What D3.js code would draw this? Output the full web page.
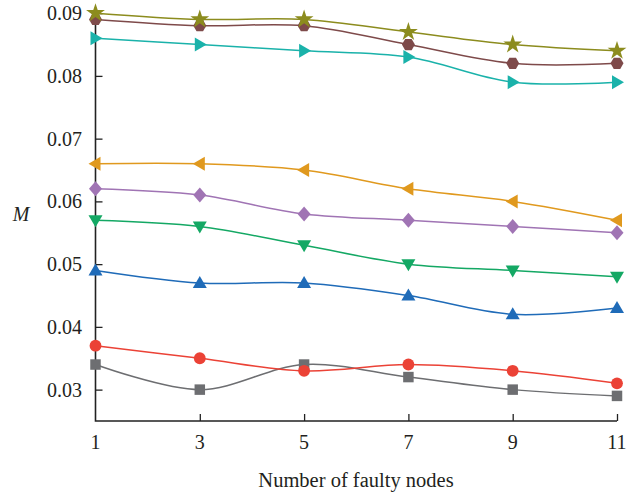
<!DOCTYPE html>
<html><head><meta charset="utf-8">
<script src="https://cdn.jsdelivr.net/npm/d3@7"></script>
<style>body{margin:0;background:#fff}svg{display:block}</style>
</head><body>
<svg id="c" width="641" height="496"></svg>
<script>
const xValues = [1, 3, 5, 7, 9, 11];
const yTicks = [0.03, 0.04, 0.05, 0.06, 0.07, 0.08, 0.09];
const xTicks = [1, 3, 5, 7, 9, 11];
const starVals   = [0.090, 0.089, 0.089, 0.087, 0.085, 0.084];
const hexVals    = [0.089, 0.088, 0.088, 0.085, 0.082, 0.082];
const rightVals  = [0.086, 0.085, 0.084, 0.083, 0.079, 0.079];
const leftVals   = [0.066, 0.066, 0.065, 0.062, 0.060, 0.057];
const diamondVals= [0.062, 0.061, 0.058, 0.057, 0.056, 0.055];
const downVals   = [0.057, 0.056, 0.053, 0.050, 0.049, 0.048];
const upVals     = [0.049, 0.047, 0.047, 0.045, 0.042, 0.043];
const circleVals = [0.037, 0.035, 0.033, 0.034, 0.033, 0.031];
const squareVals = [0.034, 0.030, 0.034, 0.032, 0.030, 0.029];

const series = [
  {v: squareVals, c: "#6d6e71", m: "square"},
  {v: circleVals, c: "#eb4236", m: "circle"},
  {v: upVals, c: "#1f6bb8", m: "up"},
  {v: downVals, c: "#14a864", m: "down"},
  {v: diamondVals, c: "#a074b4", m: "diamond"},
  {v: leftVals, c: "#e0991e", m: "left"},
  {v: rightVals, c: "#1ab2aa", m: "right"},
  {v: hexVals, c: "#7e4a4a", m: "hex"},
  {v: starVals, c: "#8c8c1e", m: "star"}
];

const svg = d3.select("#c");
const x = d3.scaleLinear().domain([1, 11]).range([95.5, 617]);
const y = d3.scaleLinear().domain([0.025, 0.0909]).range([421, 7.5]);
const font = "'Liberation Serif','DejaVu Serif',serif";

// axes
const gy = svg.append("g").attr("transform", "translate(95.5,0)")
  .call(d3.axisRight(y).tickValues(yTicks).tickSize(7).tickFormat(""));
gy.select(".domain").remove();
const gx = svg.append("g").attr("transform", "translate(0,421)")
  .call(d3.axisTop(x).tickValues(xTicks.slice(1)).tickSize(7).tickFormat(""));
gx.select(".domain").remove();
svg.selectAll(".tick line").attr("stroke", "#222").attr("stroke-width", 1.3);
svg.append("path").attr("d", `M95.5,${y.range()[1]}V421H${x(11)}`)
  .attr("fill", "none").attr("stroke", "#222").attr("stroke-width", 1.6);

// tick labels
svg.append("g").selectAll("text").data(yTicks).join("text")
  .attr("x", 82).attr("y", d => y(d)).attr("dy", "0.35em")
  .attr("text-anchor", "end").attr("font-family", font).attr("font-size", 20).attr("fill", "#231f20")
  .text(d => d.toFixed(2));
svg.append("g").selectAll("text").data(xTicks).join("text")
  .attr("x", d => x(d)).attr("y", 449)
  .attr("text-anchor", "middle").attr("font-family", font).attr("font-size", 20).attr("fill", "#231f20")
  .text(d => d);
svg.append("text").attr("x", 356).attr("y", 487).attr("text-anchor", "middle")
  .attr("font-family", font).attr("font-size", 20.5).attr("fill", "#231f20").text("Number of faulty nodes");
svg.append("text").attr("x", 21).attr("y", 221).attr("text-anchor", "middle")
  .attr("font-family", font).attr("font-size", 20).attr("font-style", "italic").attr("fill", "#231f20").text("M");

const line = d3.line().x((d, i) => x(xValues[i])).y(d => y(d)).curve(d3.curveCatmullRom.alpha(0.5));

function markerPath(m) {
  if (m === "square") return d3.symbol(d3.symbolSquare, 110)();
  if (m === "circle") return d3.symbol(d3.symbolCircle, 110)();
  if (m === "star") return d3.symbol(d3.symbolStar, 110)();
  if (m === "diamond") return "M0,-7.5L6.5,0L0,7.5L-6.5,0Z";
  if (m === "up") return "M0,-7L7,5L-7,5Z";
  if (m === "down") return "M0,7L7,-5L-7,-5Z";
  if (m === "left") return "M-7,0L5,-7L5,7Z";
  if (m === "right") return "M7,0L-5,-7L-5,7Z";
  if (m === "hex") {
    const r = 6.5; let p = [];
    for (let k = 0; k < 6; k++) { const a = Math.PI / 3 * k; p.push([r * Math.cos(a), r * Math.sin(a)]); }
    return "M" + p.map(q => q.join(",")).join("L") + "Z";
  }
}

series.forEach(s => {
  svg.append("path").attr("d", line(s.v)).attr("fill", "none")
    .attr("stroke", s.c).attr("stroke-width", 1.5);
});
series.forEach(s => {
  svg.append("g").selectAll("path").data(s.v).join("path")
    .attr("transform", (d, i) => `translate(${x(xValues[i])},${y(d)})`)
    .attr("d", markerPath(s.m)).attr("fill", s.c);
});
</script>
</body></html>
